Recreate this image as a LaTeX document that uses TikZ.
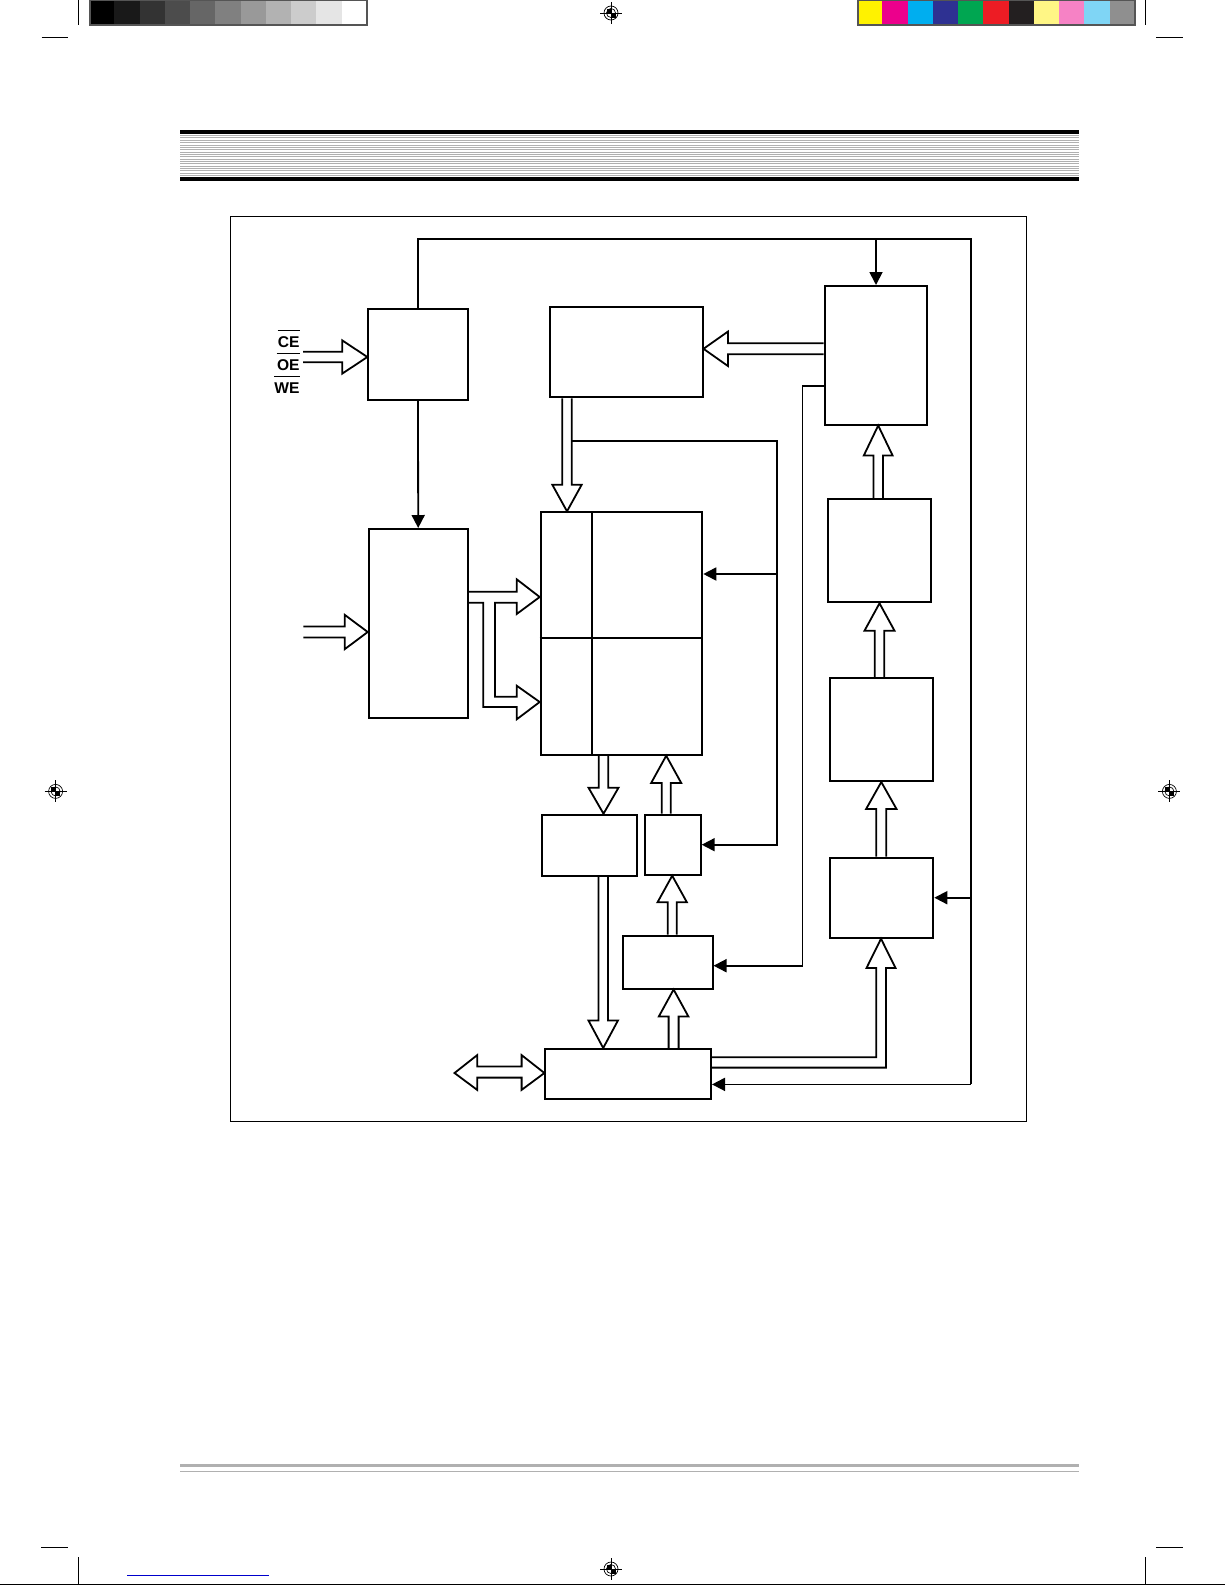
\documentclass[tikz,border=0pt]{standalone}
\usepackage{fontspec}
\setmainfont{Liberation Sans}
\usetikzlibrary{arrows.meta,calc,fit}
\definecolor{cY}{HTML}{FFF200}
\definecolor{cM}{HTML}{EC008C}
\definecolor{cC}{HTML}{00AEEF}
\definecolor{cB}{HTML}{2E3192}
\definecolor{cG}{HTML}{00A651}
\definecolor{cR}{HTML}{ED1C24}
\definecolor{cK}{HTML}{231F20}
\definecolor{cLY}{HTML}{FFF685}
\definecolor{cP}{HTML}{F682C5}
\definecolor{cLC}{HTML}{7FD5F5}
\definecolor{cGr}{HTML}{8F8F8F}
\definecolor{barline}{HTML}{555555}
\definecolor{bandgray}{HTML}{B0B0B0}
\definecolor{linkblue}{HTML}{0000CC}
\newcommand\harrow[5]{%
  \coordinate (hS) at (#1);
  \coordinate (hT) at (#2);
  \coordinate (hH) at ($(hT)!#5!(hS)$);
  \draw[hol] ($(hS)!#3!90:(hT)$) -- ($(hH)!#3!90:(hT)$) -- ($(hH)!#4!90:(hT)$) -- (hT)
     -- ($(hH)!#4!-90:(hT)$) -- ($(hH)!#3!-90:(hT)$) -- ($(hS)!#3!-90:(hT)$);
}
\newcommand\regmark[1]{%
  \begin{scope}[shift={(#1)}]
    \fill (0,0) -- (-4.5,0) -- (-4.5,-4.5) -- (0,-4.5) -- cycle;
    \fill (0,0) -- (4.5,0) -- (4.5,4.5) -- (0,4.5) -- cycle;
    \draw[line width=0.35pt] (0,0) circle[radius=7];
    \draw[line width=0.35pt] (0,0) circle[radius=4.5];
    \draw[line width=0.5pt] (-11,0) -- (11,0) (0,-11) -- (0,11);
  \end{scope}}
\begin{document}
\begin{tikzpicture}[x=0.5pt,y=-0.5pt,
  blk/.style={draw, line width=1pt, inner sep=0pt},
  lnk/.style={line width=0.9pt},
  fa/.style={-{Triangle[length=6.5pt,width=6.5pt]}},
  hol/.style={line width=0.9pt, line join=miter},
  lbl/.style={inner sep=0pt, font=\bfseries\fontsize{7.8}{8}\selectfont},
  ovl/.style={line width=0.6pt}]
\useasboundingbox (0,0) rectangle (1225,1585);

% ---------- printer marks ----------
\foreach \p [count=\i from 0] in {100,90,80,70,60,50,40,30,20,10,0}
  \fill[black!\p] (89+\i*25.27,0) rectangle ++(25.27,25.6);
\draw[barline, line width=1pt] (89.5,0) rectangle (366.5,25.1);
\foreach \c [count=\i from 0] in {cY,cM,cC,cB,cG,cR,cK,cLY,cP,cLC,cGr}
  \fill[\c] (857+\i*25.27,0) rectangle ++(25.27,25.6);
\draw[barline, line width=1pt] (857.5,0) rectangle (1134.5,25.1);
\draw[line width=0.5pt] (78,0) -- (78,25) (41.5,37.5) -- (68,37.5);
\draw[line width=0.5pt] (1145,0) -- (1145,25) (1156,37.5) -- (1183,37.5);
\draw[line width=0.5pt] (78,1557) -- (78,1585) (41,1547) -- (68,1547);
\draw[line width=0.5pt] (1145,1557) -- (1145,1585) (1156,1547) -- (1183,1547);
\draw[line width=0.5pt] (0,1584) -- (1225,1584);
\draw[linkblue, line width=0.5pt] (127,1575) -- (269,1575);
\regmark{611,13}
\regmark{611,1569}
\regmark{55.6,791.4}
\regmark{1169.4,791.4}

% ---------- header band ----------
\fill (180,130) rectangle (1079,134);
\foreach \k in {0,...,17}
  \draw[bandgray, line width=0.5pt] (180,135.6+\k*2.35) -- (1079,135.6+\k*2.35);
\fill (180,177) rectangle (1079,181);
% ---------- footer ----------
\fill[bandgray] (180,1464) rectangle (1079,1467.3);
\draw[bandgray, line width=0.5pt] (180,1471.3) -- (1079,1471.3);

% ---------- frame ----------
\draw[line width=0.5pt] (230.4,216.3) rectangle (1026.9,1121.9);

% ---------- blocks ----------
\node[blk, fit={(368.3,309) (467.7,400)}] (A) {};
\node[blk, fit={(550.3,306.7) (702.5,397.3)}] (B) {};
\node[blk, fit={(824.7,286) (927.3,424.5)}] (H) {};
\node[blk, fit={(368.7,529) (467.7,717.7)}] (A2) {};
\node[blk, fit={(540.7,512.3) (702.3,754.7)}] (C) {};
\node[blk, fit={(827.5,499.3) (930.5,602.3)}] (I) {};
\node[blk, fit={(830.3,678.3) (933.3,781)}] (J) {};
\node[blk, fit={(830.3,857.7) (933.3,937.7)}] (K) {};
\node[blk, fit={(542.3,814.7) (636.7,875.7)}] (D) {};
\node[blk, fit={(644.7,814.7) (700.7,874.7)}] (E) {};
\node[blk, fit={(623,935.7) (712.5,988.5)}] (F) {};
\node[blk, fit={(545.4,1049) (711,1099)}] (G) {};
% array partitions
\draw[line width=1pt] (592.2,0 |- C.north) -- (592.2,0 |- C.south);
\draw[line width=1pt] (C.west |- 0,638.3) -- (C.east |- 0,638.3);

% ---------- control labels ----------
\node[lbl, anchor=east] (ce) at (300,342.5) {CE};
\node[lbl, anchor=east] (oe) at (300,365.3) {OE};
\node[lbl, anchor=east] (we) at (300,388) {WE};
\draw[ovl] ([yshift=3pt]ce.north west) -- ([yshift=3pt]ce.north east);
\draw[ovl] ([yshift=3pt]oe.north west) -- ([yshift=3pt]oe.north east);
\draw[ovl] ([yshift=3pt]we.north west) -- ([yshift=3pt]we.north east);

% ---------- hollow (bus) arrows ----------
\coordinate (ctlin) at (303,357);
\coordinate (adin) at (303.3,632);
\harrow{ctlin}{A.west |- ctlin}{2.65pt}{8.3pt}{12.5pt}
\harrow{adin}{A2.west |- adin}{2.75pt}{8.6pt}{11.5pt}
\harrow{567,0 |- B.south}{567,0 |- C.north}{2.35pt}{7.35pt}{13.3pt}
\harrow{603.5,0 |- C.south}{603.5,0 |- D.north}{2.4pt}{7.5pt}{13pt}
\harrow{666.2,0 |- E.north}{666.2,0 |- C.south}{2.25pt}{7.5pt}{13.6pt}
\harrow{672.2,0 |- F.north}{672.2,0 |- E.south}{2.25pt}{7.35pt}{13.3pt}
\harrow{603.2,0 |- D.south}{603.2,0 |- G.north}{2.4pt}{7.4pt}{13.8pt}
\harrow{673.6,0 |- G.north}{673.6,0 |- F.south}{2.5pt}{7.4pt}{13.5pt}
\harrow{H.west |- 0,348.8}{B.east |- 0,348.8}{2.75pt}{8.6pt}{12.2pt}
\harrow{878.2,0 |- I.north}{878.2,0 |- H.south}{2.4pt}{7.2pt}{15pt}
\harrow{879.5,0 |- J.north}{879.5,0 |- I.south}{2.4pt}{7.5pt}{13.7pt}
\harrow{881.3,0 |- K.north}{881.3,0 |- J.south}{2.5pt}{7.6pt}{13.5pt}

% address buffer -> array (two split buses)
\draw[hol] (A2.east |- 0,591.7) -- (516.7,591.7) -- (516.7,579.3) -- (C.west |- 0,597)
  -- (516.7,614) -- (516.7,602.7) -- (495,602.7) -- (495,696.7) -- (516.7,696.7)
  -- (516.7,685.7) -- (C.west |- 0,702) -- (516.7,719.3) -- (516.7,707)
  -- (483.3,707) -- (483.3,602.7) -- (A2.east |- 0,602.7);

% I/O bus -> K
\draw[hol] (G.east |- 0,1057.2) -- (876.3,1057.2) -- (876.3,968) -- (866.5,968)
  -- (881,0 |- K.south) -- (895.5,968) -- (885.9,968) -- (885.9,1067.6)
  -- (G.east |- 0,1067.6);

% external data bus (double arrow)
\draw[hol] (454.5,1073) -- (477.2,1055.1) -- (477.2,1066.5) -- (521.6,1066.5)
  -- (521.6,1055.1) -- (G.west |- 0,1073) -- (521.6,1089.9) -- (521.6,1077.6)
  -- (477.2,1077.6) -- (477.2,1089.9) -- cycle;

% ---------- control lines ----------
\coordinate (ctl) at (A.north |- 0,239);
\coordinate (ctr) at (970.7,239);
\coordinate (cbr) at (970.7,1084.4);
\draw[lnk] (A.north) -- (ctl) -- (ctr) -- (cbr);
\draw[lnk,fa] (cbr) -- (G.east |- cbr);
\draw[lnk,fa] (H.north |- ctr) -- (H.north);
\draw[lnk,fa] (ctr |- K.east) -- (K.east);
\draw[lnk,fa] (A.south) -- (A2.north);

\coordinate (bb) at (571.7,440.7);
\coordinate (bc) at (777,440.7);
\draw[lnk,fa] (bb) -- (bc) -- (bc |- E.east) -- (E.east);
\draw[lnk,fa] (bc |- 0,574) -- (C.east |- 0,574);

\coordinate (hb) at (802.5,386);
\draw[lnk,fa] (H.west |- hb) -- (hb) -- (802.5,965.7) -- (F.east |- 0,965.7);
\end{tikzpicture}
\end{document}
